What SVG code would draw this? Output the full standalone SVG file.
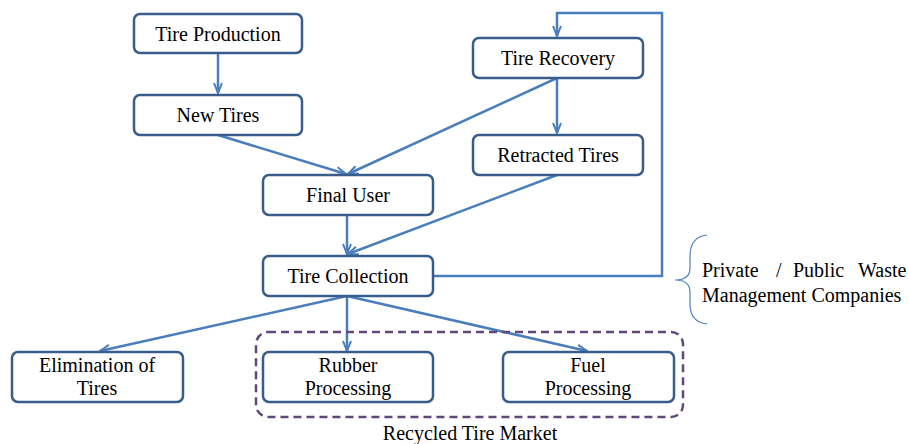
<svg xmlns="http://www.w3.org/2000/svg" width="908" height="444" viewBox="0 0 908 444">
<style>
.box{fill:#fff;stroke:#385D8A;stroke-width:2.5}
.c{fill:none;stroke:#4A7EBB;stroke-width:2.5}
</style>
<defs>
<marker id="ah" viewBox="0 0 12 10" refX="11" refY="5" markerWidth="12" markerHeight="10" markerUnits="userSpaceOnUse" orient="auto">
<path d="M1,1 L11,5 L1,9" fill="none" stroke="#4A7EBB" stroke-width="2"/>
</marker>
</defs>
<rect width="908" height="444" fill="#fff"/>
<g id="connectors">
<path class="c" d="M218,53 V93" marker-end="url(#ah)"/>
<path class="c" d="M218,135 L346,174" marker-end="url(#ah)"/>
<path class="c" d="M557,78 L348,174" marker-end="url(#ah)"/>
<path class="c" d="M557,78 V133" marker-end="url(#ah)"/>
<path class="c" d="M557,175 L348,254" marker-end="url(#ah)"/>
<path class="c" d="M347,215 V254" marker-end="url(#ah)"/>
<path class="c" d="M433,276 H662 V13 H557 V36" marker-end="url(#ah)"/>
<path class="c" d="M347,296 L100,351" marker-end="url(#ah)"/>
<path class="c" d="M347,296 V351" marker-end="url(#ah)"/>
<path class="c" d="M347,296 L587,351" marker-end="url(#ah)"/>
</g>
<g id="market">
<rect x="256" y="332" width="427" height="85" rx="12" fill="none" stroke="#5F497A" stroke-width="2.5" stroke-dasharray="8,5"/>
<text x="470" y="440" font-family="Liberation Serif" font-size="20" text-anchor="middle">Recycled Tire Market</text>
</g>
<g id="tire-production"><rect class="box" x="134" y="14" width="168" height="39" rx="6"/><text x="218" y="41" font-family="Liberation Serif" font-size="20" text-anchor="middle">Tire Production</text></g>
<g id="new-tires"><rect class="box" x="134" y="95" width="168" height="40" rx="6"/><text x="218" y="122" font-family="Liberation Serif" font-size="20" text-anchor="middle">New Tires</text></g>
<g id="final-user"><rect class="box" x="263" y="175" width="170" height="40" rx="6"/><text x="348" y="202" font-family="Liberation Serif" font-size="20" text-anchor="middle">Final User</text></g>
<g id="tire-recovery"><rect class="box" x="473" y="38" width="170" height="40" rx="6"/><text x="558" y="65" font-family="Liberation Serif" font-size="20" text-anchor="middle">Tire Recovery</text></g>
<g id="retracted-tires"><rect class="box" x="473" y="135" width="170" height="40" rx="6"/><text x="558" y="162" font-family="Liberation Serif" font-size="20" text-anchor="middle">Retracted Tires</text></g>
<g id="tire-collection"><rect class="box" x="263" y="256" width="170" height="40" rx="6"/><text x="348" y="283" font-family="Liberation Serif" font-size="20" text-anchor="middle">Tire Collection</text></g>
<g id="elimination"><rect class="box" x="12" y="352" width="171" height="50" rx="6"/><text x="97" y="372" font-family="Liberation Serif" font-size="20" text-anchor="middle">Elimination of</text><text x="97" y="395" font-family="Liberation Serif" font-size="20" text-anchor="middle">Tires</text></g>
<g id="rubber"><rect class="box" x="263" y="352" width="170" height="50" rx="6"/><text x="348" y="372" font-family="Liberation Serif" font-size="20" text-anchor="middle">Rubber</text><text x="348" y="395" font-family="Liberation Serif" font-size="20" text-anchor="middle">Processing</text></g>
<g id="fuel"><rect class="box" x="503" y="352" width="171" height="50" rx="6"/><text x="588" y="372" font-family="Liberation Serif" font-size="20" text-anchor="middle">Fuel</text><text x="588" y="395" font-family="Liberation Serif" font-size="20" text-anchor="middle">Processing</text></g>
<g id="waste-companies">
<path d="M707,235 Q690,237 690,256 L690,268 Q690,280 675,280 Q690,280 690,292 L690,304 Q690,322 707,324" fill="none" stroke="#4F81BD" stroke-width="1.2"/>
<text y="277" font-family="Liberation Serif" font-size="20"><tspan x="702">Private</tspan><tspan x="776">/</tspan><tspan x="793">Public</tspan><tspan x="858">Waste</tspan></text>
<text x="702" y="302" font-family="Liberation Serif" font-size="20">Management Companies</text>
</g>
</svg>
